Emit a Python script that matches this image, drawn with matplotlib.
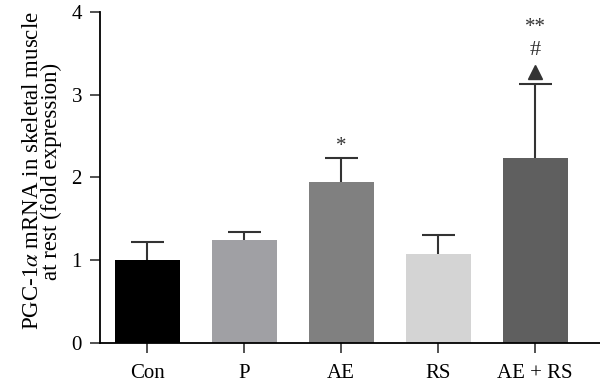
import matplotlib
matplotlib.use("Agg")
import matplotlib.pyplot as plt

plt.rcParams['font.family'] = ['Liberation Serif', 'DejaVu Serif']
plt.rcParams['mathtext.fontset'] = 'stix'

groups = ['Con', 'P', 'AE', 'RS', 'AE + RS']
means = [1.0, 1.24, 1.94, 1.08, 2.23]
errors = [0.22, 0.10, 0.29, 0.23, 0.90]
colors = ['#000000', '#a0a0a4', '#808080', '#d4d4d4', '#5f5f5f']

fig = plt.figure(figsize=(6, 3.85), dpi=100)
ax = fig.add_axes([0.1667, 0.109, 0.8333, 0.860])

x = list(range(len(groups)))
tops = [m + e for m, e in zip(means, errors)]
ax.bar(x, means, width=0.67, color=colors, zorder=2)
# upper-only error bars
ax.vlines(x, means, tops, color='#333333', linewidth=1.5, zorder=1)
ax.hlines(tops, [i - 0.17 for i in x], [i + 0.17 for i in x],
          color='#333333', linewidth=1.5, zorder=1)

# significance marks
ax.text(2, 2.38, '*', ha='center', va='center', fontsize=15, color='#333333')
ax.text(4, 3.81, '**', ha='center', va='center', fontsize=15, color='#333333')
ax.text(4, 3.54, '#', ha='center', va='center', fontsize=16, color='#333333')
ax.plot(4, 3.27, marker='^', color='#333333', markersize=10, linestyle='none')

ax.set_xlim(-0.485, 4.67)
ax.set_ylim(0, 4)
ax.set_yticks([0, 1, 2, 3, 4])
ax.set_xticks(x)
ax.set_xticklabels(groups)
ax.tick_params(axis='both', labelsize=15, length=7, width=1.2, direction='out',
               pad=6, color='#333333')
ax.tick_params(axis='x', pad=8)
for s in ['left', 'bottom']:
    ax.spines[s].set_linewidth(1.3)
ax.spines['top'].set_visible(False)
ax.spines['right'].set_visible(False)

fig.text(42 / 600, 0.556, 'PGC-1$\\alpha$ mRNA in skeletal muscle\nat rest (fold expression)',
         rotation=90, ha='center', va='center', fontsize=16.5, linespacing=0.9)

fig.savefig('out.png', dpi=100)
